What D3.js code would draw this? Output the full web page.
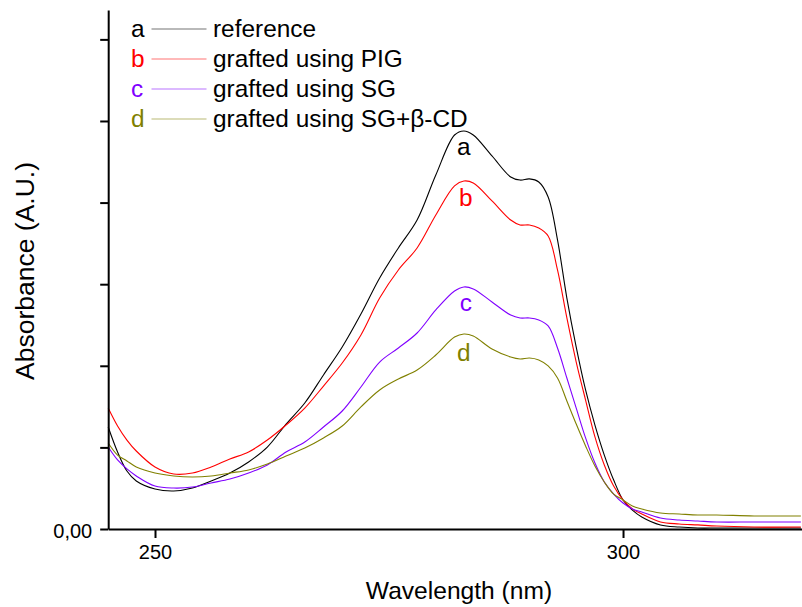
<!DOCTYPE html>
<meta charset="utf-8">
<style>
  body { margin: 0; background: #fff; }
  svg { display: block; font-family: "Liberation Sans", Arial, sans-serif; }
</style>
<svg width="802" height="607"></svg>
<script src="https://d3js.org/d3.v7.min.js"></script>
<script>

// wavelength grid (nm)
const wavelength = [245, 246, 247, 248, 250, 252, 254, 256, 258, 260, 262, 264, 266, 268, 270, 272, 274, 276, 278, 280,
  282, 283, 284, 286, 288, 289, 290, 291, 292, 293, 294, 295, 296, 297, 298, 299, 300, 301, 302, 304, 306, 308, 310, 314, 319];

// absorbance, one array per sample
const absA = [0.625, 0.472, 0.355, 0.294, 0.245, 0.233, 0.251, 0.294, 0.343, 0.411, 0.502, 0.643, 0.772, 0.944, 1.115, 1.317, 1.538, 1.722, 1.893, 2.169,
  2.414, 2.439, 2.414, 2.286, 2.157, 2.138, 2.145, 2.126, 2.034, 1.771, 1.415, 1.115, 0.852, 0.637, 0.453, 0.300, 0.178, 0.116, 0.074, 0.025, 0.012, 0.006, 0.006, 0.006, 0.006];
const absB = [0.741, 0.631, 0.545, 0.478, 0.380, 0.337, 0.343, 0.380, 0.429, 0.472, 0.545, 0.637, 0.741, 0.876, 1.017, 1.189, 1.415, 1.587, 1.722, 1.924,
  2.102, 2.132, 2.120, 2.010, 1.893, 1.863, 1.863, 1.844, 1.795, 1.587, 1.293, 1.023, 0.790, 0.564, 0.392, 0.263, 0.178, 0.123, 0.092, 0.043, 0.031, 0.025, 0.018, 0.012, 0.012];
const absC = [0.502, 0.423, 0.368, 0.325, 0.263, 0.251, 0.257, 0.282, 0.306, 0.343, 0.392, 0.472, 0.533, 0.625, 0.723, 0.870, 1.023, 1.109, 1.201, 1.342,
  1.458, 1.483, 1.471, 1.391, 1.311, 1.293, 1.293, 1.281, 1.244, 1.109, 0.925, 0.741, 0.558, 0.404, 0.288, 0.214, 0.159, 0.123, 0.104, 0.067, 0.055, 0.049, 0.043, 0.043, 0.043];
const absD = [0.527, 0.453, 0.417, 0.380, 0.343, 0.325, 0.319, 0.325, 0.343, 0.362, 0.398, 0.447, 0.496, 0.558, 0.631, 0.748, 0.852, 0.919, 0.974, 1.066,
  1.176, 1.195, 1.183, 1.103, 1.054, 1.042, 1.048, 1.036, 0.999, 0.925, 0.784, 0.643, 0.509, 0.386, 0.288, 0.214, 0.178, 0.141, 0.123, 0.098, 0.092, 0.086, 0.086, 0.080, 0.080];

const letters = ["a", "b", "c", "d"];
const legendNames = ["reference", "grafted using PIG", "grafted using SG", "grafted using SG+β-CD"];
const colors = ["#000000", "#ff0000", "#8000ff", "#808000"];
const xTicks = [250, 300];
const yTicks = [0, 0.5, 1.0, 1.5, 2.0, 2.5, 3.0];

const svg = d3.select("svg");

const x = d3.scaleLinear().domain([245, 319.12]).range([108.2, 802]);
const y = d3.scaleLinear().domain([0, 3.18]).range([529, 10]);

const series = [absA, absB, absC, absD].map((vals, i) => ({
  letter: letters[i],
  name: legendNames[i],
  color: colors[i],
  points: vals.map((v, j) => [wavelength[j], v])
}));

const line = d3.line()
    .x(d => x(d[0]))
    .y(d => y(d[1]))
    .curve(d3.curveCatmullRom.alpha(0.5));

svg.append("g")
  .selectAll("path")
  .data(series)
  .join("path")
    .attr("fill", "none")
    .attr("stroke", d => d.color)
    .attr("stroke-width", 1.1)
    .attr("d", d => line(d.points));

// axes
const xAxis = svg.append("g")
    .attr("transform", `translate(0,${y(0)})`)
    .call(d3.axisBottom(x).tickValues(xTicks).tickSize(9).tickSizeOuter(0).tickPadding(7));

const yAxis = svg.append("g")
    .attr("transform", `translate(${x(245)},0)`)
    .call(d3.axisLeft(y).tickValues(yTicks).tickSize(8).tickSizeOuter(0).tickPadding(8)
      .tickFormat(d => d === 0 ? "0,00" : ""));

[xAxis, yAxis].forEach(g => {
  g.select(".domain").attr("stroke", "#000").attr("stroke-width", 2);
  g.selectAll(".tick line").attr("stroke", "#000").attr("stroke-width", 2);
  g.selectAll(".tick text")
      .attr("fill", "#000")
      .attr("font-size", 20)
      .attr("font-family", "'Liberation Sans', Arial, sans-serif");
});
yAxis.selectAll(".tick text").attr("dy", "0.4em");

svg.append("text")
    .attr("x", 459)
    .attr("y", 599)
    .attr("text-anchor", "middle")
    .attr("font-size", 24.6)
    .text("Wavelength (nm)");

svg.append("text")
    .attr("transform", "translate(34,271) rotate(-90)")
    .attr("text-anchor", "middle")
    .attr("font-size", 26.5)
    .text("Absorbance (A.U.)");

// legend
const legendRows = [29, 59, 89, 119];
const legend = svg.append("g")
  .selectAll("g")
  .data(series)
  .join("g")
    .attr("transform", (d, i) => `translate(0,${legendRows[i]})`);

legend.append("text")
    .attr("x", 131)
    .attr("y", 7.5)
    .attr("font-size", 24.4)
    .attr("fill", d => d.color)
    .text(d => d.letter);

legend.append("line")
    .attr("x1", 151.5)
    .attr("x2", 206.5)
    .attr("stroke", d => d.color)
    .attr("stroke-opacity", 0.55)
    .attr("stroke-width", 1);

legend.append("text")
    .attr("x", 213)
    .attr("y", 7.5)
    .attr("font-size", 24.4)
    .attr("fill", "#000")
    .text(d => d.name);

// letters above each peak
const peakLabels = [[283, 155], [283.2, 206], [283.2, 311], [283, 361]];
svg.append("g")
  .selectAll("text")
  .data(series)
  .join("text")
    .attr("x", (d, i) => x(peakLabels[i][0]))
    .attr("y", (d, i) => peakLabels[i][1])
    .attr("text-anchor", "middle")
    .attr("font-size", 24.4)
    .attr("fill", d => d.color)
    .text(d => d.letter);

</script>
